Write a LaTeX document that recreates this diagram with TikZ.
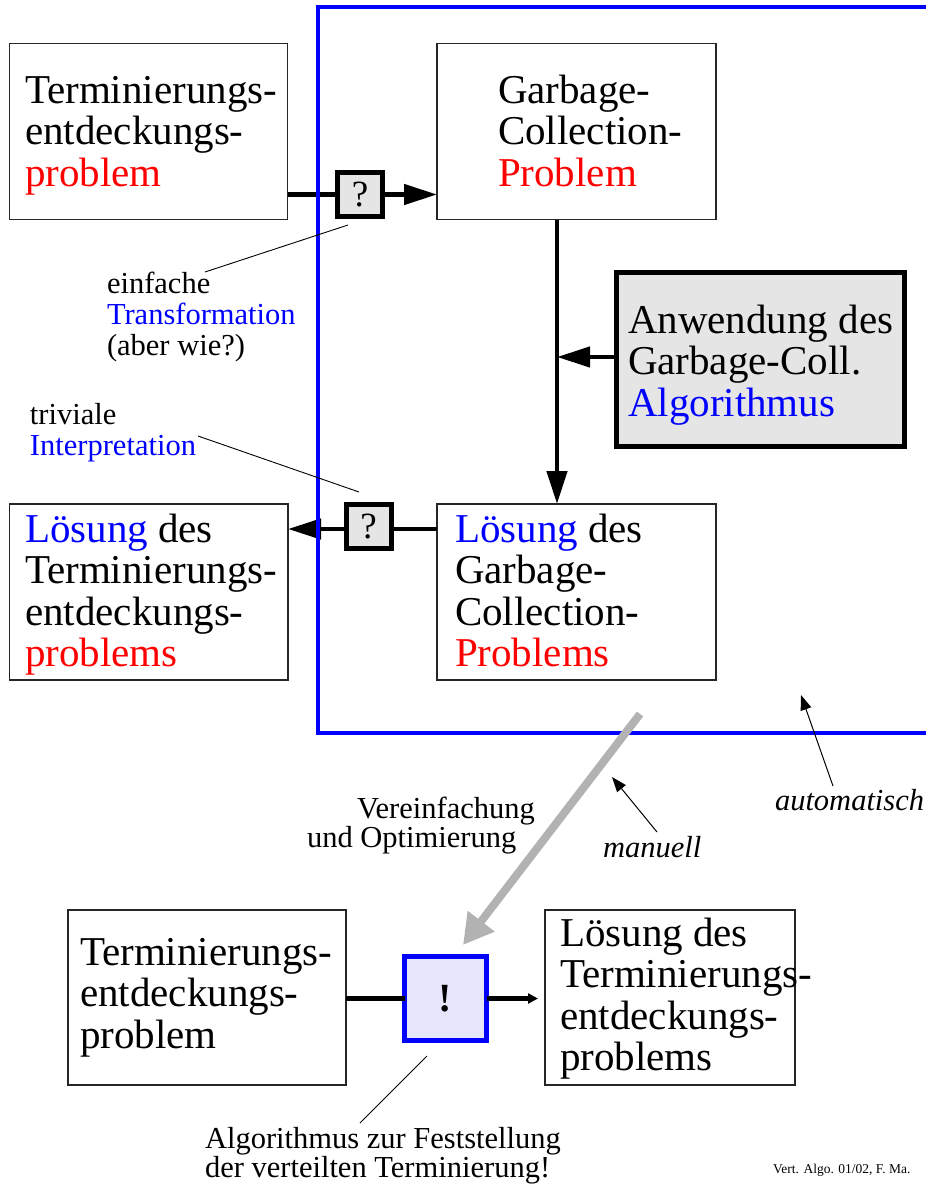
\documentclass[tikz,border=0pt]{standalone}
\usepackage{fontspec}
\setmainfont{Liberation Serif}
\usetikzlibrary{arrows.meta}
\newcommand\bigf{\fontsize{41}{41.5}\selectfont}
\newcommand\smallf{\fontsize{30.5}{31}\selectfont}
\newcommand\ml[1]{\parbox[t]{400pt}{#1}}
\definecolor{lav}{HTML}{E6E6FA}
\begin{document}
\begin{tikzpicture}[x=1pt,y=-1pt,
  pbox/.style={draw=black!85, line width=1.5pt, outer sep=0pt, inner sep=0pt, anchor=north west},
  algbox/.style={draw=black, line width=5pt, fill=black!10, outer sep=0pt, inner sep=0pt, anchor=north west},
  qbox/.style={draw=black, line width=5pt, fill=black!10, minimum width=45pt, minimum height=44pt, inner sep=0pt, outer sep=0pt, font=\fontsize{37}{37}\selectfont},
  exbox/.style={draw=blue, line width=5pt, fill=lav, minimum width=82pt, minimum height=84pt, inner sep=0pt, outer sep=0pt, font=\fontsize{40}{40}\selectfont\bfseries},
  txt/.style={anchor=base west, inner sep=0pt, outer sep=0pt, font=\bigf},
  ann/.style={anchor=base west, inner sep=0pt, outer sep=0pt, font=\smallf},
  conn/.style={line width=4.5pt},
  bigtip/.style={-{Triangle[length=33pt,width=20pt]}},
  thinarrow/.style={line width=1pt, -{Triangle[length=15pt,width=11pt]}},
  pointer/.style={line width=0.9pt}
]
\useasboundingbox (0,0) rectangle (926,1184);

% boxes
\node[pbox, minimum width=278pt, minimum height=176pt] (b1) at (9.5,43.5) {};
\node[pbox, minimum width=279pt, minimum height=176pt] (b2) at (437,43.5) {};
\node[algbox, minimum width=288pt, minimum height=174pt] (alg) at (616.5,272.5) {};
\node[pbox, minimum width=278.5pt, minimum height=176pt] (b4) at (9.5,504) {};
\node[pbox, minimum width=279pt, minimum height=176pt] (b5) at (437,504) {};
\node[pbox, minimum width=278pt, minimum height=175pt] (b6) at (68,910) {};
\node[pbox, minimum width=250pt, minimum height=175pt] (b7) at (545,910) {};

% box texts
\node[txt] (t1) at (25,103) {\ml{Terminierungs-\\entdeckungs-\\\textcolor{red}{problem}}};
\node[txt] (t2) at (498,103) {\ml{Garbage-\\Collection-\\\textcolor{red}{Problem}}};
\node[txt] (t3) at (628,333) {\ml{Anwendung des\\Garbage-Coll.\\\textcolor{blue}{Algorithmus}}};
\node[txt] (t4) at (25,542) {\ml{\textcolor{blue}{Lösung} des\\Terminierungs-\\entdeckungs-\\\textcolor{red}{problems}}};
\node[txt] (t5) at (455,542) {\ml{\textcolor{blue}{Lösung} des\\Garbage-\\Collection-\\\textcolor{red}{Problems}}};
\node[txt] (t6) at (80,965) {\ml{Terminierungs-\\entdeckungs-\\problem}};
\node[txt] (t7) at (560,946) {\ml{Lösung des\\Terminierungs-\\entdeckungs-\\problems}};

% small boxes
\node[qbox] (q1) at (360,194.5) {?};
\node[qbox] (q2) at (368.5,526.5) {?};
\node[exbox] (ex) at (445.5,998.5) {!};

% connectors
\coordinate (vx) at (557,0);
\draw[conn] (b1.east |- q1.west) -- (q1.west);
\draw[conn, bigtip] (q1.east) -- (q1.east -| b2.west);
\draw[conn, bigtip] (b2.south -| vx) -- (b5.north -| vx);
\draw[conn, bigtip] ([yshift=2.5pt]alg.west) -- ([yshift=2.5pt]alg.west -| vx);
\draw[conn] ([yshift=-2.5pt]b5.west |- q2.east) -- ([yshift=-2.5pt]q2.east);
\draw[conn, bigtip] ([yshift=-2.5pt]q2.west) -- ([yshift=-2.5pt]q2.west -| b4.east);
\draw[conn] (b6.east |- ex.west) -- (ex.west);
\draw[conn, -{Triangle[length=10pt,width=10pt]}] (ex.east) -- ([xshift=-7pt]ex.east -| b7.west);

% blue frame
\coordinate (f1) at (926,7);
\coordinate (f2) at (318,7);
\coordinate (f3) at (318,733);
\coordinate (f4) at (926,733);
\draw[blue, line width=3.5pt] (f1) -- (f2) -- (f3) -- (f4);

% gray manual arrow
\coordinate (gs) at (640,714);
\coordinate (ge) at (463,945);
\draw[line width=8pt, draw=black!30, -{Triangle[length=30pt,width=32pt]}] (gs) -- (ge);

% annotations
\node[ann] (einf) at (107,293) {\ml{einfache\\\textcolor{blue}{Transformation}\\(aber wie?)}};
\coordinate (e1) at (205,272);
\coordinate (e2) at (348,225);
\draw[pointer] (e1) -- (e2);

\node[ann] (triv) at (30,424) {\ml{triviale\\\textcolor{blue}{Interpretation}}};
\coordinate (i1) at (198,436);
\coordinate (i2) at (359,492);
\draw[pointer] (i1) -- (i2);

\node[ann] (ver) at (357,818) {Vereinfachung};
\node[ann] (opt) at (307,847) {und Optimierung};

\node[ann, font=\smallf\itshape] (man) at (603,857) {manuell};
\coordinate (m1) at (657,832);
\coordinate (m2) at (612,777);
\draw[thinarrow] (m1) -- (m2);

\node[ann, font=\smallf\itshape] (auto) at (775,810) {automatisch};
\coordinate (a1) at (833,786);
\coordinate (a2) at (801,695);
\draw[thinarrow] (a1) -- (a2);

\node[ann, font=\fontsize{30.5}{29}\selectfont] (algz) at (205,1148) {\ml{Algorithmus zur Feststellung\\der verteilten Terminierung!}};
\coordinate (z1) at (360,1123);
\coordinate (z2) at (427,1056);
\draw[pointer] (z1) -- (z2);

\node[anchor=base west, inner sep=0pt, font=\fontsize{13.5}{14}\selectfont] (foot) at (773,1173) {Vert. Algo. 01/02, F. Ma.};
\end{tikzpicture}
\end{document}
